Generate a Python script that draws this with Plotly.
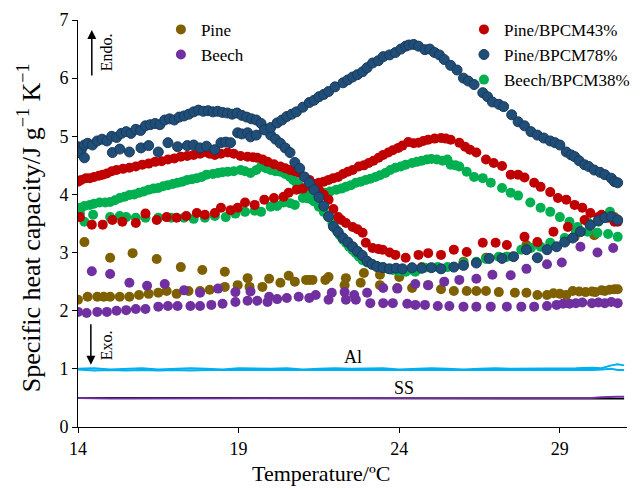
import plotly.graph_objects as go

# ---------------- data ----------------
# Pine/BPCM78% (two branches)
b78_x_a = [14.0, 14.1, 14.2, 14.3, 14.45, 14.6, 14.75, 14.9, 15.05, 15.2, 15.35, 15.5, 15.65, 15.8, 15.95, 16.1, 16.25, 16.4, 16.55, 16.7, 16.85, 17.0, 17.15, 17.3, 17.45, 17.6, 17.75, 17.9, 18.05, 18.2, 18.35, 18.5, 18.65, 18.8, 18.95, 19.1, 19.25, 19.4, 19.55, 19.7, 19.85, 20.0, 20.15, 20.3, 20.45, 20.6, 20.75, 20.9, 21.05, 21.2, 21.35, 21.5, 21.65, 21.8, 21.95, 22.1, 22.25, 22.4, 22.55, 22.7, 22.85, 23.0, 23.15, 23.3, 23.5, 23.7, 23.9, 24.1, 24.4, 24.7, 25.0, 25.3, 25.7, 26.0, 26.4, 26.8, 27.2, 27.56, 27.96, 28.3, 28.6, 28.9, 29.15, 29.4, 29.64, 29.95, 30.2, 30.4, 30.6, 30.8]
b78_y_a = [4.82, 4.76, 4.85, 4.88, 4.85, 4.92, 4.95, 4.92, 5.0, 4.98, 5.05, 5.08, 5.05, 5.12, 5.1, 5.18, 5.2, 5.22, 5.2, 5.28, 5.3, 5.28, 5.33, 5.35, 5.38, 5.42, 5.45, 5.43, 5.44, 5.42, 5.43, 5.41, 5.40, 5.38, 5.4, 5.36, 5.33, 5.3, 5.28, 5.22, 5.12, 5.02, 4.95, 4.88, 4.8, 4.72, 4.55, 4.45, 4.3, 4.2, 4.08, 3.95, 3.8, 3.62, 3.45, 3.35, 3.25, 3.18, 3.1, 3.02, 2.95, 2.85, 2.8, 2.76, 2.74, 2.72, 2.73, 2.72, 2.74, 2.73, 2.74, 2.72, 2.75, 2.78, 2.82, 2.9, 2.9, 2.93, 3.05, 2.91, 3.05, 3.1, 3.18, 3.25, 3.36, 3.47, 3.55, 3.6, 3.62, 3.56]
b78_x_b = [14.0, 14.2, 15.07, 15.3, 15.6, 15.96, 16.2, 16.5, 16.8, 17.1, 17.4, 17.6, 17.8, 18.0, 18.26, 18.45, 18.6, 18.75, 18.97, 19.1, 19.28, 19.37, 19.55, 19.8, 20.0, 20.2, 20.35, 20.5, 20.65, 20.8, 21.0, 21.2, 21.35, 21.5, 21.65, 21.8, 22.0, 22.25, 22.4, 22.55, 22.7, 22.86, 23.0, 23.17, 23.35, 23.5, 23.7, 23.88, 24.05, 24.2, 24.3, 24.45, 24.6, 24.8, 24.95, 25.1, 25.25, 25.4, 25.6, 25.8, 26.0, 26.15, 26.33, 26.6, 26.75, 26.9, 27.1, 27.25, 27.5, 27.7, 27.9, 28.1, 28.3, 28.5, 28.7, 28.85, 29.0, 29.2, 29.35, 29.46, 29.6, 29.77, 29.9, 30.07, 30.25, 30.4, 30.6, 30.7, 30.8]
b78_y_b = [4.72, 4.63, 4.72, 4.78, 4.73, 4.80, 4.84, 4.73, 4.89, 4.82, 4.84, 4.85, 4.80, 4.83, 4.77, 4.89, 4.9, 4.89, 5.06, 5.04, 5.06, 4.99, 5.02, 5.11, 5.15, 5.23, 5.28, 5.34, 5.38, 5.42, 5.5, 5.58, 5.62, 5.68, 5.72, 5.77, 5.85, 5.92, 5.97, 6.02, 6.06, 6.11, 6.18, 6.26, 6.3, 6.37, 6.4, 6.44, 6.5, 6.55, 6.57, 6.58, 6.55, 6.49, 6.5, 6.44, 6.4, 6.32, 6.22, 6.14, 6.0, 5.95, 5.89, 5.75, 5.68, 5.59, 5.55, 5.51, 5.37, 5.25, 5.18, 5.08, 5.02, 4.97, 4.92, 4.89, 4.85, 4.73, 4.68, 4.65, 4.58, 4.51, 4.48, 4.42, 4.38, 4.34, 4.28, 4.22, 4.2]

# Pine/BPCM43%
b43_x_a = [14.0, 14.1, 14.25, 14.37, 14.5, 14.65, 14.77, 14.9, 15.05, 15.2, 15.4, 15.6, 15.8, 16.0, 16.2, 16.4, 16.6, 16.8, 17.0, 17.2, 17.4, 17.6, 17.8, 17.95, 18.1, 18.26, 18.45, 18.66, 18.85, 19.06, 19.28, 19.45, 19.58, 19.75, 19.9, 20.1, 20.3, 20.45, 20.6, 20.75, 20.9, 21.05, 21.2, 21.35, 21.5, 21.65, 21.8, 21.95, 22.1, 22.2, 22.34, 22.55, 22.7, 22.86, 22.96, 23.17, 23.35, 23.48, 23.7, 23.88, 24.2, 24.6, 24.9, 25.3, 25.7, 26.1, 26.6, 27.0, 27.35, 27.9, 28.3, 28.8, 29.25, 29.77, 30.3, 30.7]
b43_y_a = [4.22, 4.25, 4.28, 4.28, 4.3, 4.32, 4.34, 4.36, 4.4, 4.42, 4.44, 4.46, 4.48, 4.51, 4.53, 4.56, 4.57, 4.6, 4.62, 4.65, 4.66, 4.68, 4.7, 4.73, 4.7, 4.68, 4.7, 4.72, 4.7, 4.66, 4.65, 4.64, 4.63, 4.6, 4.56, 4.52, 4.48, 4.45, 4.42, 4.4, 4.37, 4.3, 4.25, 4.16, 4.08, 4.0, 3.91, 3.75, 3.61, 3.56, 3.51, 3.44, 3.4, 3.34, 3.17, 3.08, 3.06, 3.05, 3.0, 2.96, 2.91, 2.96, 2.99, 2.96, 3.05, 3.01, 3.17, 3.17, 3.13, 3.27, 3.18, 3.36, 3.44, 3.56, 3.65, 3.53]
b43_x_b = [14.06, 14.43, 14.77, 15.07, 15.38, 15.8, 16.1, 16.45, 16.76, 17.07, 17.37, 17.7, 17.95, 18.26, 18.45, 18.75, 18.97, 19.2, 19.5, 19.8, 20.1, 20.4, 20.56, 20.8, 21.0, 21.2, 21.35, 21.5, 21.65, 21.8, 21.95, 22.1, 22.25, 22.4, 22.55, 22.74, 22.9, 23.05, 23.2, 23.36, 23.5, 23.66, 23.8, 23.97, 24.1, 24.28, 24.45, 24.6, 24.75, 24.9, 25.1, 25.3, 25.45, 25.6, 25.87, 26.05, 26.2, 26.4, 26.7, 26.94, 27.2, 27.47, 27.7, 27.9, 28.2, 28.4, 28.7, 28.94, 29.2, 29.46, 29.7, 29.95, 30.2, 30.5, 30.8]
b43_y_b = [3.61, 3.48, 3.48, 3.56, 3.53, 3.51, 3.67, 3.56, 3.61, 3.6, 3.63, 3.68, 3.65, 3.68, 3.77, 3.73, 3.77, 3.86, 3.82, 3.91, 3.94, 3.96, 4.03, 4.08, 4.1, 4.15, 4.18, 4.2, 4.22, 4.25, 4.28, 4.3, 4.35, 4.39, 4.42, 4.48, 4.5, 4.54, 4.58, 4.63, 4.68, 4.72, 4.76, 4.8, 4.84, 4.9, 4.88, 4.89, 4.92, 4.94, 4.96, 4.97, 4.96, 4.94, 4.89, 4.82, 4.77, 4.72, 4.6, 4.54, 4.49, 4.34, 4.34, 4.29, 4.2, 4.13, 4.04, 3.94, 3.91, 3.82, 3.77, 3.68, 3.61, 3.6, 3.53]

# Beech/BPCM38%
b38_x_a = [14.06, 14.2, 14.37, 14.5, 14.67, 14.85, 15.0, 15.15, 15.3, 15.45, 15.6, 15.75, 15.9, 16.05, 16.2, 16.35, 16.5, 16.65, 16.8, 16.95, 17.1, 17.25, 17.4, 17.55, 17.7, 17.85, 18.0, 18.2, 18.36, 18.5, 18.66, 18.85, 19.06, 19.2, 19.37, 19.55, 19.7, 19.85, 20.0, 20.15, 20.3, 20.45, 20.6, 20.7, 20.8, 20.9, 21.0, 21.1, 21.2, 21.35, 21.5, 21.65, 21.8, 21.92, 22.04, 22.15, 22.25, 22.35, 22.44, 22.55, 22.65, 22.75, 22.86, 23.0, 23.17, 23.3, 23.48, 23.65, 23.8, 24.0, 24.2, 24.4, 24.5, 24.8, 25.2, 25.5, 26.0, 26.4, 26.7, 27.1, 27.35, 27.8, 28.1, 28.4, 28.7, 29.15, 29.5, 29.9, 30.2, 30.56, 30.8]
b38_y_a = [3.77, 3.8, 3.82, 3.84, 3.86, 3.86, 3.87, 3.9, 3.94, 3.96, 3.99, 4.0, 4.03, 4.05, 4.08, 4.1, 4.11, 4.14, 4.16, 4.18, 4.2, 4.22, 4.25, 4.26, 4.28, 4.3, 4.34, 4.35, 4.37, 4.38, 4.39, 4.4, 4.42, 4.4, 4.37, 4.42, 4.48, 4.45, 4.42, 4.4, 4.39, 4.35, 4.3, 4.25, 4.2, 4.14, 4.08, 4.02, 3.96, 3.88, 3.79, 3.7, 3.61, 3.5, 3.39, 3.3, 3.22, 3.16, 3.1, 3.04, 2.99, 2.93, 2.87, 2.83, 2.79, 2.77, 2.75, 2.72, 2.7, 2.68, 2.67, 2.7, 2.67, 2.74, 2.75, 2.75, 2.82, 2.84, 2.89, 2.93, 2.93, 3.05, 3.08, 3.1, 3.17, 3.25, 3.36, 3.51, 3.53, 3.7, 3.56]
b38_x_b = [14.06, 14.2, 14.47, 15.0, 15.3, 15.5, 15.8, 16.1, 16.5, 16.9, 17.3, 17.6, 17.95, 18.26, 18.6, 18.9, 19.2, 19.5, 19.7, 20.0, 20.2, 20.4, 20.6, 20.75, 21.0, 21.15, 21.3, 21.5, 21.7, 21.85, 22.04, 22.2, 22.34, 22.5, 22.65, 22.8, 22.96, 23.1, 23.26, 23.4, 23.57, 23.72, 23.88, 24.05, 24.2, 24.4, 24.55, 24.7, 24.86, 25.0, 25.17, 25.35, 25.5, 25.6, 25.75, 25.87, 26.1, 26.33, 26.6, 26.85, 27.2, 27.47, 27.7, 28.08, 28.4, 28.7, 29.0, 29.3, 29.55, 29.86, 30.17, 30.5, 30.8]
b38_y_b = [3.68, 3.53, 3.65, 3.61, 3.63, 3.61, 3.6, 3.6, 3.6, 3.6, 3.6, 3.58, 3.6, 3.63, 3.61, 3.67, 3.7, 3.72, 3.7, 3.79, 3.8, 3.86, 3.85, 3.82, 3.94, 3.93, 3.91, 3.98, 4.03, 4.05, 4.08, 4.1, 4.13, 4.16, 4.2, 4.22, 4.25, 4.27, 4.3, 4.33, 4.37, 4.42, 4.46, 4.48, 4.51, 4.54, 4.56, 4.58, 4.6, 4.61, 4.6, 4.58, 4.6, 4.51, 4.5, 4.48, 4.39, 4.3, 4.28, 4.2, 4.11, 4.03, 3.98, 3.86, 3.77, 3.7, 3.61, 3.53, 3.44, 3.36, 3.34, 3.32, 3.27]

# Pine
pine_x_a = [14.0, 14.3, 14.6, 14.8, 15.0, 15.3, 15.6, 15.9, 16.2, 16.5, 16.76, 17.07, 17.44, 17.8, 18.1, 18.57, 18.97, 19.34, 19.74, 20.3, 20.75, 21.1, 21.3, 21.7, 22.3, 22.8, 23.4, 23.94, 24.4, 24.9, 25.3, 25.7, 26.1, 26.4, 26.7, 27.1, 27.6, 27.96, 28.3, 28.6, 28.8, 29.0, 29.2, 29.4, 29.6, 29.8, 30.0, 30.1, 30.3, 30.4, 30.55, 30.7, 30.8]
pine_y_a = [2.19, 2.24, 2.24, 2.24, 2.24, 2.24, 2.24, 2.27, 2.29, 2.31, 2.34, 2.29, 2.34, 2.34, 2.36, 2.41, 2.44, 2.41, 2.41, 2.48, 2.5, 2.53, 2.53, 2.53, 2.44, 2.48, 2.44, 2.39, 2.39, 2.44, 2.37, 2.34, 2.34, 2.34, 2.34, 2.32, 2.31, 2.31, 2.27, 2.27, 2.3, 2.29, 2.27, 2.34, 2.33, 2.32, 2.33, 2.32, 2.35, 2.34, 2.36, 2.37, 2.37]
pine_x_b = [14.2, 15.0, 15.7, 16.45, 17.2, 17.87, 18.57, 19.28, 19.95, 20.56, 21.2, 21.8, 22.34, 22.9, 23.4, 24.0, 24.7, 26.0, 26.7, 27.35, 27.96, 29.46, 30.07, 30.7]
pine_y_b = [3.18, 2.91, 2.99, 2.89, 2.75, 2.7, 2.67, 2.56, 2.55, 2.6, 2.53, 2.58, 2.56, 2.65, 2.62, 2.58, 2.75, 2.84, 2.91, 2.93, 3.13, 3.27, 3.3, 3.61]

# Beech
beech_x_a = [14.0, 14.27, 14.6, 14.9, 15.2, 15.5, 15.8, 16.1, 16.5, 16.8, 17.1, 17.5, 17.8, 18.15, 18.5, 18.9, 19.28, 19.58, 19.9, 20.2, 20.5, 20.87, 21.2, 21.4, 21.8, 22.34, 22.65, 23.1, 23.5, 23.8, 24.25, 24.5, 24.8, 25.2, 25.56, 26.0, 26.4, 26.85, 27.35, 27.8, 28.2, 28.6, 28.9, 29.1, 29.3, 29.5, 29.7, 30.0, 30.2, 30.4, 30.6, 30.8]
beech_y_a = [1.98, 1.96, 1.98, 1.98, 2.0, 2.01, 2.03, 2.03, 2.07, 2.08, 2.08, 2.08, 2.08, 2.1, 2.12, 2.15, 2.17, 2.17, 2.15, 2.2, 2.22, 2.24, 2.22, 2.27, 2.19, 2.19, 2.19, 2.13, 2.13, 2.13, 2.12, 2.1, 2.1, 2.08, 2.08, 2.07, 2.07, 2.07, 2.07, 2.07, 2.07, 2.08, 2.1, 2.12, 2.12, 2.13, 2.14, 2.13, 2.14, 2.13, 2.15, 2.13]
beech_x_b = [14.43, 15.0, 15.6, 16.15, 16.7, 17.3, 17.8, 18.36, 18.9, 19.37, 19.95, 21.9, 22.3, 22.6, 23.0, 23.5, 23.94, 24.5, 24.9, 25.4, 25.87, 26.4, 26.9, 27.47, 27.96, 28.6, 29.06, 29.64, 30.17, 30.66]
beech_y_b = [2.68, 2.63, 2.48, 2.43, 2.46, 2.35, 2.31, 2.38, 2.32, 2.33, 2.24, 2.31, 2.32, 2.27, 2.31, 2.39, 2.38, 2.46, 2.44, 2.5, 2.53, 2.55, 2.62, 2.61, 2.72, 2.8, 2.83, 3.1, 3.0, 3.08]

# Reference materials
ref_x = [14.0, 14.5, 15.0, 15.5, 16.0, 16.5, 17.0, 17.5, 18.0, 18.5, 19.0, 19.5, 20.0, 20.5, 21.0, 21.5, 22.0, 22.5, 23.0, 23.5, 24.0, 24.5, 25.0, 25.5, 26.0, 26.5, 27.0, 27.5, 28.0, 28.5, 29.0, 29.5, 30.0, 30.3, 30.6, 30.8, 31.0]
al_1 = [1.00, 1.01, 0.99, 1.00, 1.01, 0.99, 1.00, 1.01, 1.00, 0.99, 1.01, 1.00, 1.00, 1.01, 0.99, 1.00, 1.01, 1.00, 1.00, 1.01, 0.99, 1.00, 1.01, 1.00, 0.99, 1.00, 1.01, 1.00, 1.00, 1.01, 1.00, 1.01, 1.02, 1.01, 1.06, 1.08, 1.06]
al_2 = [0.99, 0.97, 0.98, 0.97, 0.98, 0.97, 0.98, 0.97, 0.98, 0.98, 0.97, 0.98, 0.97, 0.98, 0.98, 0.97, 0.98, 0.97, 0.98, 0.98, 0.97, 0.98, 0.97, 0.98, 0.98, 0.97, 0.98, 0.98, 0.97, 0.98, 0.98, 0.97, 0.98, 0.99, 1.00, 0.98, 0.98]
ss_1 = [0.50, 0.49, 0.49, 0.49, 0.49, 0.49, 0.49, 0.49, 0.49, 0.49, 0.49, 0.49, 0.49, 0.49, 0.49, 0.49, 0.49, 0.49, 0.49, 0.49, 0.49, 0.49, 0.49, 0.49, 0.49, 0.49, 0.49, 0.49, 0.49, 0.49, 0.50, 0.50, 0.50, 0.51, 0.52, 0.52, 0.52]
ss_2 = [0.50, 0.50, 0.50, 0.49, 0.49, 0.49, 0.49, 0.49, 0.49, 0.49, 0.49, 0.49, 0.49, 0.49, 0.49, 0.49, 0.49, 0.49, 0.49, 0.49, 0.49, 0.49, 0.49, 0.49, 0.49, 0.49, 0.49, 0.49, 0.49, 0.49, 0.49, 0.49, 0.49, 0.50, 0.50, 0.49, 0.49]

x_ticks = [14, 19, 24, 29]

# ---------------- styling ----------------
FONT = "Liberation Serif"
C_PINE = "#7F6000"
C_BEECH = "#7030A0"
C_43 = "#C00000"
C_78 = "#1F4E79"
C_38 = "#00B050"
C_AL = "#00B0F0"

fig = go.Figure()

# reference lines
fig.add_trace(go.Scatter(x=ref_x, y=al_2, mode="lines", line=dict(color=C_AL, width=2), showlegend=False, hoverinfo="skip"))
fig.add_trace(go.Scatter(x=ref_x, y=al_1, mode="lines", line=dict(color=C_AL, width=2), showlegend=False, hoverinfo="skip"))
fig.add_trace(go.Scatter(x=ref_x, y=ss_2, mode="lines", line=dict(color="#000000", width=2), showlegend=False, hoverinfo="skip"))
fig.add_trace(go.Scatter(x=ref_x, y=ss_1, mode="lines", line=dict(color=C_BEECH, width=2), showlegend=False, hoverinfo="skip"))

MS = 10
fig.add_trace(go.Scatter(x=pine_x_a + pine_x_b, y=pine_y_a + pine_y_b, mode="markers", name="Pine",
                         marker=dict(color=C_PINE, size=MS), legend="legend", legendrank=1))
fig.add_trace(go.Scatter(x=beech_x_a + beech_x_b, y=beech_y_a + beech_y_b, mode="markers", name="Beech",
                         marker=dict(color=C_BEECH, size=MS), legend="legend", legendrank=2))
fig.add_trace(go.Scatter(x=b38_x_a + b38_x_b, y=b38_y_a + b38_y_b, mode="markers", name="Beech/BPCM38%",
                         marker=dict(color=C_38, size=MS), legend="legend2", legendrank=5))
fig.add_trace(go.Scatter(x=b43_x_a + b43_x_b, y=b43_y_a + b43_y_b, mode="markers", name="Pine/BPCM43%",
                         marker=dict(color=C_43, size=MS), legend="legend2", legendrank=3))
fig.add_trace(go.Scatter(x=b78_x_a + b78_x_b, y=b78_y_a + b78_y_b, mode="markers", name="Pine/BPCM78%",
                         marker=dict(color=C_78, size=MS, line=dict(color="#1B3A5C", width=1)), legend="legend2", legendrank=4))

axis_common = dict(showgrid=False, zeroline=False, showline=True, linecolor="black", linewidth=1,
                   ticks="outside", ticklen=5, tickcolor="black", tickwidth=1, automargin=False,
                   tickfont=dict(family=FONT, size=18, color="black"))

fig.update_layout(
    width=644, height=489,
    margin=dict(l=78, r=9, t=20, b=62),
    paper_bgcolor="white", plot_bgcolor="white",
    font=dict(family=FONT, color="black"),
    xaxis=dict(range=[14, 31.09], tickvals=x_ticks, ticktext=[str(v) for v in x_ticks], **axis_common),
    yaxis=dict(range=[0, 7], dtick=1, tick0=0, **axis_common),
    legend=dict(x=0.151, y=1.02, xanchor="left", yanchor="top", bgcolor="rgba(0,0,0,0)",
                font=dict(family=FONT, size=17), itemwidth=30, tracegroupgap=0),
    legend2=dict(x=0.703, y=1.02, xanchor="left", yanchor="top", bgcolor="rgba(0,0,0,0)",
                 font=dict(family=FONT, size=17), itemwidth=30, tracegroupgap=0),
)

annots = [
    dict(x=14.43, y=6.83, ax=0, ay=47, showarrow=True, arrowhead=2, arrowsize=1.2, arrowwidth=1.5, arrowcolor="black", text=""),
    dict(x=14.4, y=1.07, ax=0, ay=-42, showarrow=True, arrowhead=2, arrowsize=1.2, arrowwidth=1.5, arrowcolor="black", text=""),
    dict(x=14.89, y=6.44, text="Endo.", textangle=-90, showarrow=False, font=dict(family=FONT, size=16)),
    dict(x=14.89, y=1.4, text="Exo.", textangle=-90, showarrow=False, font=dict(family=FONT, size=16)),
    dict(x=22.55, y=1.2, text="Al", showarrow=False, font=dict(family=FONT, size=18)),
    dict(x=24.15, y=0.67, text="SS", showarrow=False, font=dict(family=FONT, size=18)),
]
for a in annots:
    a["xref"] = "x"
    a["yref"] = "y"
    if a.get("showarrow"):
        a["axref"] = "pixel"
        a["ayref"] = "pixel"

# axis titles as paper annotations (positioned as in the reference)
annots.append(dict(xref="paper", yref="paper", x=0.443, y=-0.115, xanchor="center", yanchor="middle",
                   text="Temperature/ºC", showarrow=False, font=dict(family=FONT, size=22)))
annots.append(dict(xref="paper", yref="paper", x=-0.088, y=0.49, xanchor="center", yanchor="middle",
                   text="Specific heat capacity/J g<sup>−1</sup> K<sup>−1</sup>", textangle=-90,
                   showarrow=False, font=dict(family=FONT, size=26)))
fig.update_layout(annotations=annots)

fig.write_html("out.html", config={"displayModeBar": False},
               post_script="document.body.style.margin='0';document.body.style.padding='0';")
